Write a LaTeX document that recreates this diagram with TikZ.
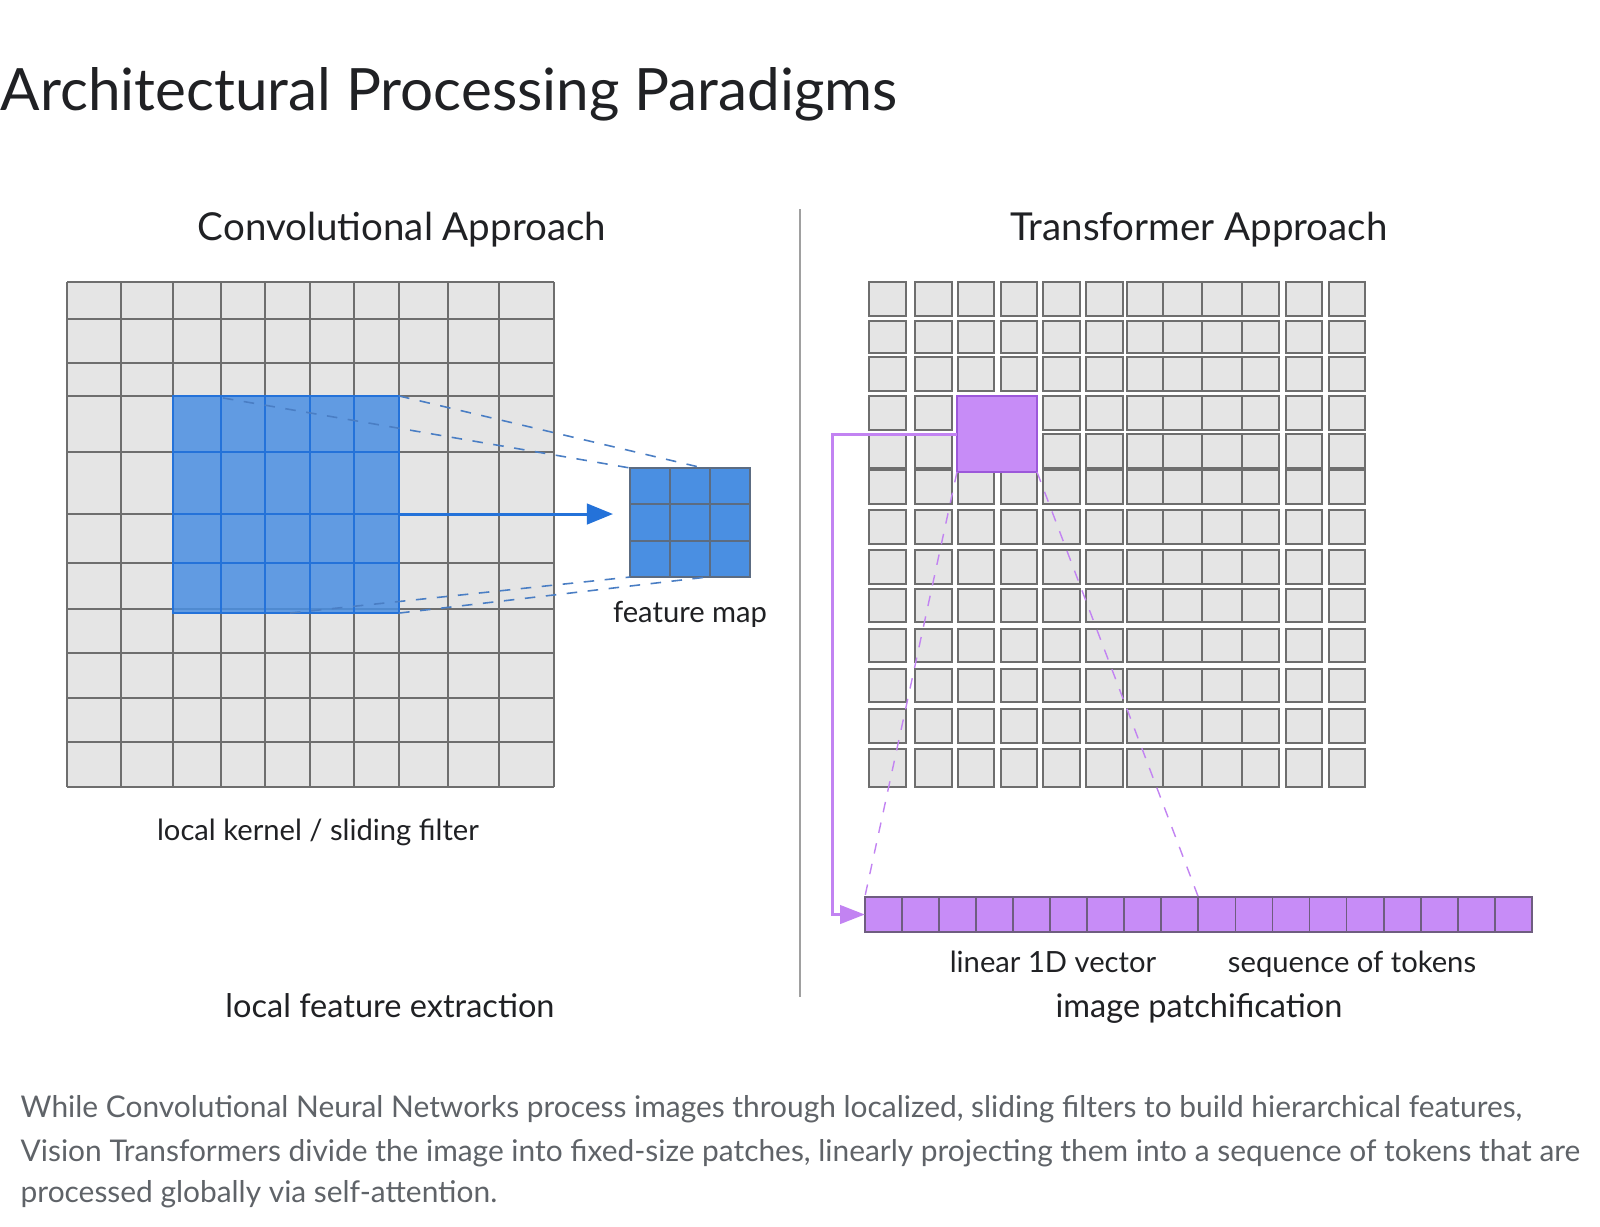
\documentclass[tikz,border=0pt]{standalone}
\usepackage{fontspec}
\setmainfont{Lato}
\usetikzlibrary{arrows.meta,calc}

\definecolor{ink}{HTML}{202124}
\definecolor{caption-grey}{HTML}{5F6368}
\definecolor{cell-fill}{HTML}{E5E5E5}
\definecolor{cell-line}{HTML}{6E6E6E}
\definecolor{conv-blue}{HTML}{4A8FE2}
\definecolor{conv-edge}{HTML}{2472D9}
\definecolor{conv-dash}{HTML}{4A7EC4}
\definecolor{fmap-edge}{HTML}{5C6C82}
\definecolor{vit-purple}{HTML}{C78CF7}
\definecolor{vit-edge}{HTML}{9C58DA}
\definecolor{vit-line}{HTML}{C283F2}
\definecolor{token-edge}{HTML}{6F5D80}
\definecolor{divider}{HTML}{A0A0A0}

\tikzstyle{title-text}=[anchor=base west, inner sep=0pt, text=ink, font=\fontsize{16.6}{20}\selectfont]
\tikzstyle{head-text}=[anchor=base, inner sep=0pt, text=ink, font=\fontsize{10.95}{13}\selectfont]
\tikzstyle{label-text}=[anchor=base, inner sep=0pt, text=ink, font=\fontsize{8.3}{10}\selectfont]
\tikzstyle{foot-text}=[anchor=base, inner sep=0pt, text=ink, font=\fontsize{9.25}{11}\selectfont]
\tikzstyle{caption-text}=[anchor=base west, inner sep=0pt, text=caption-grey, font=\fontsize{8.5}{10}\selectfont]
\tikzstyle{grid-line}=[cell-line, line width=0.45pt]
\tikzstyle{kernel-box}=[draw=conv-edge, fill=conv-blue, fill opacity=0.85, line width=0.6pt, inner sep=0pt, outer sep=0pt]
\tikzstyle{kernel-line}=[conv-edge, line width=0.6pt]
\tikzstyle{fmap-box}=[draw=fmap-edge, fill=conv-blue, line width=0.45pt, inner sep=0pt, outer sep=0pt]
\tikzstyle{fmap-line}=[fmap-edge, line width=0.45pt]
\tikzstyle{conv-dashed}=[conv-dash, dashed, line width=0.45pt]
\tikzstyle{conv-arrow}=[conv-edge, line width=0.85pt, -{Triangle[length=7.4pt, width=5.8pt]}]
\tikzstyle{patch-cell}=[draw=cell-line, fill=cell-fill, line width=0.6pt]
\tikzstyle{patch-box}=[draw=vit-edge, fill=vit-purple, line width=0.7pt, inner sep=0pt, outer sep=0pt]
\tikzstyle{patch-arrow}=[vit-line, line width=0.85pt, -{Triangle[length=7pt, width=5.2pt]}]
\tikzstyle{patch-dashed}=[vit-line, dashed, line width=0.4pt]
\tikzstyle{token-bar}=[draw=token-edge, fill=vit-purple, line width=0.5pt, inner sep=0pt, outer sep=0pt]
\tikzstyle{token-line}=[token-edge, line width=0.5pt]

\begin{document}
\begin{tikzpicture}[x=0.01cm, y=-0.01cm]
  \useasboundingbox (0,0) rectangle (1600,1226);
  \fill[white] (0,0) rectangle (1600,1226);

  \node (title) at (0, 110) [title-text] {Architectural Processing Paradigms};
  \node (conv-title) at (402, 240) [head-text] {Convolutional Approach};
  \node (vit-title) at (1199, 240) [head-text] {Transformer Approach};
  \draw[divider, line width=0.45pt] (800, 209) -- (800, 997);

  \fill[cell-fill] (67,282) rectangle (554,787);
  \foreach \x in {67,121,173,221,265,310,354,399,448,499,554}
    \draw[grid-line] (\x,282) -- (\x,787);
  \foreach \y in {282,319,363,396,452,514,563,609,653,698,742,787}
    \draw[grid-line] (67,\y) -- (554,\y);

  \node (kernel) at (286, 504.5) [kernel-box, minimum width=2.26cm, minimum height=2.17cm] {};
  \foreach \x in {221,265,310,354}
    \draw[kernel-line] (\x,396) -- (\x,613);
  \foreach \y in {452,514,563}
    \draw[kernel-line] (173,\y) -- (399,\y);

  \node (fmap) at (690, 522.5) [fmap-box, minimum width=1.2cm, minimum height=1.09cm] {};
  \foreach \x in {670,710}
    \draw[fmap-line] (\x,468) -- (\x,577);
  \foreach \y in {504,541}
    \draw[fmap-line] (630,\y) -- (750,\y);
  \node (fmap-label) at (690, 622) [label-text] {feature map};

  \draw[conv-dashed] ($(kernel.north west)+(50,2)$) -- (fmap.north west);
  \draw[conv-dashed] (kernel.north east) -- ($(fmap.north west)+(73,0)$);
  \draw[conv-dashed] ($(kernel.south west)+(117,0)$) -- (fmap.south west);
  \draw[conv-dashed] (kernel.south east) -- ($(fmap.south west)+(77,0)$);
  \coordinate (conv-tip) at (613, 514);
  \draw[conv-arrow] (kernel.east |- conv-tip) -- (conv-tip);

  \node (conv-kernel) at (318, 840) [label-text] {local kernel / sliding filter};
  \node (conv-caption) at (390, 1017) [foot-text] {local feature extraction};

  \foreach \xa/\xb in {869/906, 915/952, 958/994, 1001/1037, 1043/1080, 1086/1123, 1127/1163, 1163/1202, 1202/1242, 1242/1279, 1286/1322, 1329/1365}
    \foreach \ya/\yb in {282/316, 321/353, 357/391, 396/430, 434/468, 470/504, 510/544, 550/584, 589/622, 629/662, 669/702, 709/743, 749/787}
      \draw[patch-cell] (\xa,\ya) rectangle (\xb,\yb);

  \node (patch) at (997, 434) [patch-box, minimum width=0.8cm, minimum height=0.76cm] {};
  \node (tokens) at (1198.5, 914.5) [token-bar, minimum width=6.67cm, minimum height=0.35cm] {};
  \foreach \i in {1,...,17}
    \draw[token-line] ($(tokens.north west)+(\i*37.06,0)$) -- ($(tokens.south west)+(\i*37.06,0)$);

  \draw[patch-arrow] (patch.west) -- ++(-124,0) |- (tokens.west);
  \draw[patch-dashed] (patch.south west) -- (tokens.north west);
  \draw[patch-dashed] (patch.south east) -- ($(tokens.north west)+(333.5,0)$);

  \node (vit-vector) at (1053, 972) [label-text] {linear 1D vector};
  \node (vit-tokens) at (1352, 972) [label-text] {sequence of tokens};
  \node (vit-caption) at (1199, 1017) [foot-text] {image patchification};

  \node (caption-1) at (20, 1117) [caption-text] {While Convolutional Neural Networks process images through localized, sliding filters to build hierarchical features,};
  \node (caption-2) at (20, 1161) [caption-text] {Vision Transformers divide the image into fixed-size patches, linearly projecting them into a sequence of tokens that are};
  \node (caption-3) at (20, 1202) [caption-text] {processed globally via self-attention.};
\end{tikzpicture}
\end{document}
